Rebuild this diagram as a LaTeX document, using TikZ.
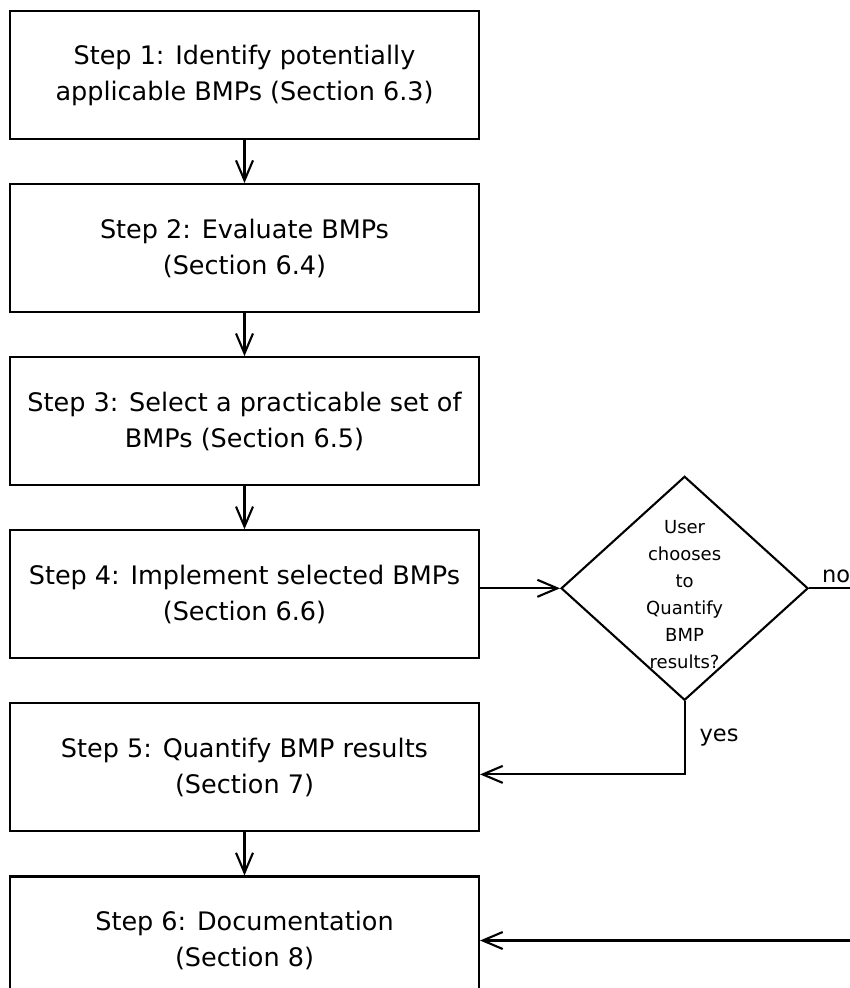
\documentclass[tikz,border=0pt]{standalone}
\usepackage{fontspec}
\setmainfont{DejaVu Sans}
\usetikzlibrary{arrows.meta,positioning,shapes.geometric}

\begin{document}
\begin{tikzpicture}
          [x=1pt,y=1pt,line width=2.1pt,node distance=43pt,
            every node/.style={inner sep=0pt},
            stepbox/.style={rectangle,draw,minimum width=469pt,minimum height=128pt,
              align=center,font=\fontsize{25.5}{36}\selectfont},
            decision/.style={diamond,draw,minimum width=247pt,minimum height=224pt},
            question/.style={align=center,font=\fontsize{18}{27}\selectfont},
            answer/.style={font=\fontsize{22.5}{26}\selectfont},
            flow/.style={-{Straight Barb[length=20pt,width=17pt]}}]
          \useasboundingbox (0,0) rectangle (849,-988);
          \node[stepbox] (s1) at (244.5,-75) {Step 1: Identify potentially\\applicable BMPs (Section 6.3)};
          \node[stepbox,below=of s1] (s2) {Step 2: Evaluate BMPs\\(Section 6.4)};
          \node[stepbox,below=of s2] (s3) {Step 3: Select a practicable set of\\BMPs (Section 6.5)};
          \node[stepbox,below=of s3] (s4) {Step 4: Implement selected BMPs\\(Section 6.6)};
          \node[stepbox,below=of s4] (s5) {Step 5: Quantify BMP results\\(Section 7)};
          \node[stepbox,below=of s5] (s6) {Step 6: Documentation\\(Section 8)};
          % decision
          \node[decision,right=80pt of s4,yshift=6pt] (q) {};
          \node[question] (qtext) at ([yshift=-6pt]q.center) {User\\chooses\\to\\Quantify\\BMP\\results?};
          \coordinate[right=42pt of q.east] (qno);
          \node[answer,anchor=south west] (nolbl) at ([xshift=-30pt,yshift=4pt]qno) {no};
          \node[answer,anchor=west] (yeslbl) at ([xshift=14pt,yshift=-36pt]q.south) {yes};
          \foreach \from/\to in {s1/s2,s2/s3,s3/s4,s5/s6}
          \draw[flow] (\from) -- (\to);
          \draw[flow] (s4.east |- q.west) -- (q.west);
          \draw[flow] (q.south) |- ([yshift=-7pt]s5.east);
          \draw[flow] (q.east) -- (qno) |- (s6.east);
        \end{tikzpicture}
\end{document}
